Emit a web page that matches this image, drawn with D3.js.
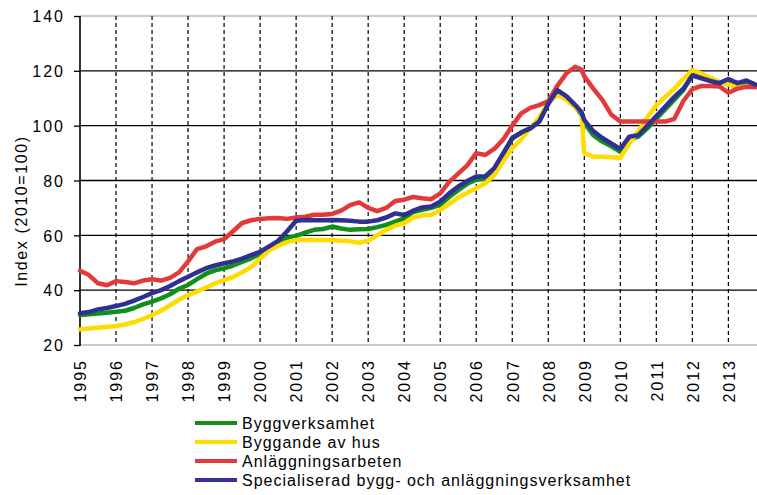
<!DOCTYPE html>
<html>
<head>
<meta charset="utf-8">
<script src="https://cdn.jsdelivr.net/npm/d3@7"></script>
<style>
  html, body { margin: 0; padding: 0; background: #fff; }
  svg { display: block; }
  text { font-family: "Liberation Sans", Arial, sans-serif; fill: #000; }
</style>
</head>
<body>
<script>
// Time points (decimal years, quarterly)
const periods = [
  1995.00,1995.25,1995.50,1995.75, 1996.00,1996.25,1996.50,1996.75,
  1997.00,1997.25,1997.50,1997.75, 1998.00,1998.25,1998.50,1998.75,
  1999.00,1999.25,1999.50,1999.75, 2000.00,2000.25,2000.50,2000.75,
  2001.00,2001.25,2001.50,2001.75, 2002.00,2002.25,2002.50,2002.75,
  2003.00,2003.25,2003.50,2003.75, 2004.00,2004.25,2004.50,2004.75,
  2005.00,2005.25,2005.50,2005.75, 2006.00,2006.25,2006.50,2006.75,
  2007.00,2007.25,2007.50,2007.75, 2008.00,2008.25,2008.50,2008.75,2008.92,
  2009.00,2009.25,2009.50,2009.75, 2010.00,2010.25,2010.50,2010.75,
  2011.00,2011.25,2011.50,2011.75, 2012.00,2012.25,2012.50,2012.75,
  2013.00,2013.25,2013.50,2013.75
];

const byggverksamhet = [
  30.9,31.2,31.5,31.8, 32.1,32.5,33.5,34.8,
  35.8,37.0,38.5,40.5, 41.9,44.0,46.0,47.2,
  48.0,49.0,50.3,51.6, 53.3,55.5,57.5,59.0,
  59.8,61.0,62.0,62.3, 63.2,62.5,62.0,62.2,
  62.3,63.0,63.8,65.0, 66.2,68.5,69.3,70.0,
  71.1,74.0,76.5,78.8, 80.3,80.8,83.5,89.5,
  95.3,97.5,99.0,101.5, 108.0,112.8,110.5,107.0,104.0,
  101.0,96.5,94.2,92.5, 90.5,95.0,96.0,99.0,
  102.5,106.0,109.5,113.0, 118.5,117.5,116.5,115.3,
  116.5,115.0,116.0,114.5
];

const byggandeAvHus = [
  25.7,26.0,26.3,26.6, 26.9,27.5,28.3,29.5,
  30.9,32.5,34.5,36.5, 38.2,39.5,41.0,42.5,
  43.7,44.8,46.5,48.5, 51.5,54.5,56.2,57.5,
  58.3,58.3,58.3,58.3, 58.3,58.0,57.8,57.3,
  58.0,60.0,62.0,63.5, 64.5,66.5,67.3,67.4,
  69.2,71.5,73.8,75.5, 77.2,79.0,82.0,87.0,
  91.8,95.0,99.0,103.0, 108.3,111.2,109.5,106.5,105.0,
  90.0,88.7,88.7,88.5, 88.3,93.5,98.0,103.0,
  107.5,110.5,113.5,117.0, 120.3,119.0,117.5,116.0,
  115.0,114.2,114.2,114.3
];

const anlaggningsarbeten = [
  47.1,45.5,42.5,41.8, 43.3,43.0,42.5,43.5,
  44.0,43.5,44.5,46.5, 50.5,55.0,56.0,57.7,
  58.6,61.5,64.5,65.5, 66.0,66.2,66.3,66.0,
  66.5,66.8,67.5,67.5, 67.8,69.0,71.0,72.0,
  70.0,68.8,70.0,72.5, 73.0,74.0,73.5,73.2,
  75.3,79.5,82.5,85.5, 90.0,89.3,91.5,95.0,
  100.0,104.5,106.5,107.5, 109.0,114.5,119.0,121.5,120.5,
  118.0,113.5,109.4,104.0, 101.5,101.5,101.5,101.5,
  101.5,101.5,102.5,109.0, 113.3,114.5,114.5,114.3,
  112.0,113.5,114.2,114.0
];

const specialiserad = [
  31.6,32.0,33.0,33.5, 34.2,35.0,36.2,37.5,
  38.9,40.0,41.5,43.3, 44.9,46.5,48.0,49.0,
  49.8,50.5,51.5,52.8, 54.0,56.0,58.0,61.5,
  65.3,65.6,65.5,65.5, 65.6,65.5,65.3,65.0,
  65.0,65.5,66.5,68.0, 67.4,69.0,70.2,70.5,
  72.3,75.3,77.8,79.8, 81.5,81.5,84.5,90.0,
  95.5,97.5,99.0,101.5, 108.0,113.0,110.8,107.5,105.0,
  102.0,98.0,95.5,93.5, 91.5,96.0,96.5,100.0,
  103.5,107.0,110.5,113.5, 118.3,117.3,116.3,115.5,
  117.0,115.5,116.5,115.0
];

const seriesNames = [
  "Byggverksamhet",
  "Byggande av hus",
  "Anläggningsarbeten",
  "Specialiserad bygg- och anläggningsverksamhet"
];
const seriesValues = [byggverksamhet, byggandeAvHus, anlaggningsarbeten, specialiserad];
const seriesColors = ["#10901a", "#ffdc00", "#e23a3a", "#2e3192"];

const yTicks = [20, 40, 60, 80, 100, 120, 140];
const xTickYears = [1995,1996,1997,1998,1999,2000,2001,2002,2003,2004,2005,2006,2007,2008,2009,2010,2011,2012,2013];
const yTitle = "Index (2010=100)";

const W = 757, H = 495;
const svg = d3.select("body").append("svg").attr("width", W).attr("height", H);

const x = d3.scaleLinear().domain([1995, 2013.8]).range([80, 757.2]);
const y = d3.scaleLinear().domain([20, 140]).range([345, 16]);

// horizontal gridlines
svg.append("g").selectAll("line").data(yTicks).join("line")
  .attr("x1", x(1995)).attr("x2", W)
  .attr("y1", d => y(d)).attr("y2", d => y(d))
  .attr("stroke", d => (d === 20 || d === 140) ? "#9a9a9a" : "#000")
  .attr("stroke-width", d => (d === 20 || d === 140) ? 1.2 : 1.3);

// vertical dashed gridlines
svg.append("g").selectAll("line").data(xTickYears.filter(d => d > 1995)).join("line")
  .attr("x1", d => x(d)).attr("x2", d => x(d))
  .attr("y1", y(140)).attr("y2", y(20))
  .attr("stroke", "#000").attr("stroke-width", 1.2)
  .attr("stroke-dasharray", "4,3");

// y axis
const yAxis = d3.axisLeft(y).tickValues(yTicks).tickSize(6).tickPadding(10).tickFormat(d3.format("d"));
const gy = svg.append("g").attr("transform", `translate(${x(1995)},0)`).call(yAxis);
gy.select(".domain").attr("stroke", "#000").attr("stroke-width", 1.6).attr("d", `M0,${y(140)}V${y(20)+1}`);
gy.selectAll(".tick line").attr("stroke", "#000").attr("stroke-width", 1.3);
gy.selectAll(".tick text").attr("font-size", 16).attr("letter-spacing", "2px")
  .attr("font-family", "Liberation Sans, Arial, sans-serif").attr("fill", "#000")
  .attr("x", -15).attr("dy", "0.36em");

// x axis labels
const xAxis = d3.axisBottom(x).tickValues(xTickYears).tickSize(0).tickFormat(d3.format("d"));
const gx = svg.append("g").attr("transform", `translate(0,${y(20)})`).call(xAxis);
gx.select(".domain").remove();
gx.selectAll(".tick text")
  .attr("font-size", 16).attr("letter-spacing", "2px")
  .attr("font-family", "Liberation Sans, Arial, sans-serif").attr("fill", "#000")
  .attr("transform", "rotate(-90)")
  .attr("text-anchor", "end")
  .attr("x", -14).attr("y", 0).attr("dy", "0.36em");

// y title
svg.append("text")
  .attr("transform", `translate(27,211) rotate(-90)`)
  .attr("text-anchor", "middle")
  .attr("font-size", 16).attr("letter-spacing", "1.6px")
  .text(yTitle);

// series lines
const line = d3.line().x((d, i) => x(periods[i])).y(d => y(d));
svg.append("g").selectAll("path").data(seriesValues).join("path")
  .attr("d", d => line(d))
  .attr("fill", "none")
  .attr("stroke", (d, i) => seriesColors[i])
  .attr("stroke-width", 4.5)
  .attr("stroke-linejoin", "round")
  .attr("stroke-linecap", "round");

// legend
const lg = svg.append("g");
const rows = lg.selectAll("g").data(seriesNames).join("g")
  .attr("transform", (d, i) => `translate(195,${423 + i * 19})`);
rows.append("line").attr("x1", 0).attr("x2", 42).attr("y1", 0).attr("y2", 0)
  .attr("stroke", (d, i) => seriesColors[i]).attr("stroke-width", 4);
rows.append("text").attr("x", 47).attr("dy", "0.36em")
  .attr("font-size", 16).attr("letter-spacing", "1px")
  .text(d => d);
</script>
</body>
</html>
